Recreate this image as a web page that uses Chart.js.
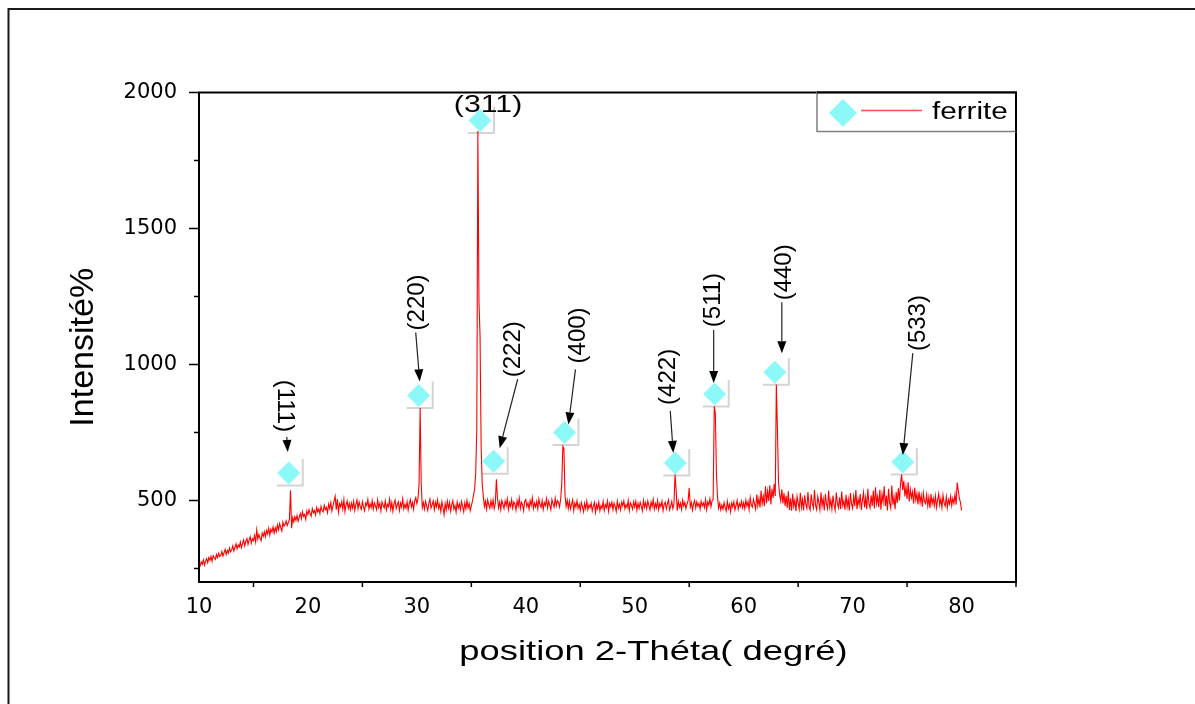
<!DOCTYPE html>
<html>
<head>
<meta charset="utf-8">
<title>DRX ferrite</title>
<script src="https://cdn.jsdelivr.net/npm/chart.js@4.4.1/dist/chart.umd.min.js"></script>
<style>
  html, body { margin: 0; padding: 0; background: #fff; }
</style>
</head>
<body>
<canvas id="xrd" width="1195" height="704"></canvas>
<script>
// diffractogram: one value every 0.1 degree, 10.0 to 80.0
// (one row = one degree)
var thetaStart = 10;
var thetaStep = 0.1;
var intensity = [
  268, 259, 274, 265, 281, 262, 277, 286, 271, 290,
  280, 294, 276, 297, 289, 283, 301, 290, 306, 293,
  298, 312, 295, 308, 320, 301, 316, 306, 325, 311,
  318, 333, 314, 327, 340, 322, 336, 329, 347, 326,
  341, 355, 333, 349, 360, 338, 354, 366, 343, 359,
  352, 371, 347, 392, 358, 375, 361, 352, 380, 368,
  385, 366, 390, 377, 398, 372, 394, 384, 403, 380,
  399, 385, 410, 392, 415, 401, 388, 420, 405, 412,
  425, 408, 419, 430, 537, 398, 436, 421, 440, 427,
  445, 424, 438, 452, 433, 458, 441, 449, 430, 461,
  448, 466, 452, 442, 470, 455, 463, 447, 474, 458,
  469, 451, 478, 463, 458, 482, 466, 474, 455, 486,
  470, 492, 461, 480, 498, 515, 466, 505, 457, 488,
  476, 495, 468, 503, 459, 484, 498, 471, 489, 466,
  490, 472, 497, 463, 485, 502, 470, 494, 478, 467,
  495, 476, 462, 490, 481, 504, 469, 487, 474, 499,
  468, 491, 480, 466, 502, 474, 489, 461, 495, 482,
  473, 498, 465, 486, 477, 505, 468, 492, 460, 488,
  501, 470, 484, 495, 463, 490, 476, 506, 469, 485,
  472, 496, 464, 489, 503, 476, 493, 467, 498, 510,
  488, 505, 560, 840, 560, 474, 492, 468, 497, 479,
  463, 490, 505, 472, 484, 498, 466, 493, 477, 502,
  470, 486, 459, 495, 474, 448, 488, 465, 497, 471,
  492, 460, 484, 499, 468, 481, 457, 494, 472, 487,
  465, 496, 478, 458, 491, 470, 500, 473, 489, 462,
  480, 497, 520, 540, 600, 760, 1858, 1232, 1105, 700,
  560, 515, 478, 497, 468, 502, 484, 471, 499, 476,
  502, 470, 489, 578, 508, 473, 494, 466, 500, 485,
  470, 498, 481, 506, 466, 492, 477, 503, 472, 494,
  486, 464, 499, 478, 508, 471, 493, 485, 462, 497,
  503, 477, 490, 468, 499, 482, 510, 470, 491, 476,
  496, 469, 505, 484, 474, 500, 467, 492, 481, 507,
  472, 497, 483, 466, 503, 488, 475, 508, 480, 499,
  493, 476, 505, 560, 698, 690, 520, 478, 501, 470,
  497, 468, 485, 502, 463, 490, 476, 499, 471, 486,
  463, 492, 477, 458, 489, 470, 497, 466, 483, 474,
  490, 461, 478, 493, 456, 485, 469, 494, 462, 480,
  471, 496, 463, 485, 474, 498, 460, 489, 477, 493,
  466, 490, 478, 459, 497, 472, 486, 465, 494, 480,
  498, 469, 484, 474, 500, 463, 491, 482, 468, 495,
  476, 497, 464, 489, 471, 493, 480, 462, 500, 475,
  492, 470, 498, 481, 465, 494, 477, 503, 468, 488,
  473, 500, 466, 489, 477, 497, 462, 485, 494, 469,
  488, 502, 465, 479, 496, 470, 487, 595, 540, 462,
  497, 475, 490, 466, 501, 480, 493, 470, 486, 499,
  546, 476, 492, 464, 487, 500, 472, 495, 479, 489,
  468, 497, 480, 491, 474, 503, 466, 494, 483, 506,
  477, 499, 505, 846, 820, 600, 512, 472, 490, 465,
  483, 468, 492, 474, 461, 497, 470, 486, 459, 491,
  476, 495, 465, 482, 500, 468, 489, 477, 497, 473,
  492, 470, 501, 479, 496, 466, 510, 483, 475, 504,
  486, 468, 522, 480, 508, 474, 536, 488, 515, 479,
  552, 490, 534, 498, 556, 485, 543, 509, 560, 516,
  926, 760, 565, 522, 498, 541, 489, 527, 480, 518,
  472, 534, 465, 508, 462, 524, 478, 501, 460, 515,
  490, 468, 528, 475, 504, 463, 519, 486, 471, 531,
  478, 465, 522, 489, 472, 538, 482, 466, 514, 493,
  466, 530, 480, 506, 463, 523, 488, 470, 536, 476,
  501, 468, 518, 484, 464, 529, 490, 473, 511, 469,
  533, 481, 498, 466, 521, 476, 504, 463, 527, 487,
  471, 515, 480, 538, 468, 506, 484, 523, 465, 500,
  529, 474, 511, 468, 543, 488, 472, 519, 480, 535,
  470, 548, 489, 515, 475, 539, 466, 523, 494, 552,
  480, 518, 463, 543, 491, 472, 555, 484, 513, 468,
  531, 491, 545, 500, 562, 595, 538, 572, 515, 550,
  505, 567, 496, 540, 510, 531, 489, 547, 501, 525,
  485, 533, 492, 518, 477, 527, 496, 488, 521, 480,
  512, 472, 523, 487, 508, 481, 517, 474, 501, 524,
  483, 506, 474, 519, 490, 479, 513, 473, 503, 487,
  515, 481, 508, 489, 523, 484, 566, 538, 507, 493,
  463
];

// indexed reflections (markers)
var hklLabels = ["(111)", "(220)", "(311)", "(222)", "(400)", "(422)", "(511)", "(440)", "(533)"];
var hklTheta = [18.24, 30.17, 35.80, 37.05, 43.55, 53.72, 57.34, 62.86, 74.61];
var hklIntensity = [601, 886, 1897, 644, 750, 638, 891, 971, 641];

var xTickValues = [10, 20, 30, 40, 50, 60, 70, 80];
var xMinorTicks = [15, 25, 35, 45, 55, 65, 75, 85];
var yTickValues = [500, 1000, 1500, 2000];
var yMinorTicks = [250, 750, 1250, 1750];

var seriesName = "ferrite";
var xTitle = "position 2-Théta( degré)";
var yTitle = "Intensité%";

var spectrum = intensity.map(function (v, i) {
  return { x: Math.round((thetaStart + i * thetaStep) * 10) / 10, y: v };
});

var markers = hklTheta.map(function (t, i) {
  return { x: t, y: hklIntensity[i] };
});

// label placement around each marker: text centre, arrow start, arrow tip (px), rotation
var labelLayout = [
  { text: [-6, -67],  from: [-2, -36],  to: [-1, -21], rot: 90 },
  { text: [1, -93],   from: [-3, -63],  to: [1, -14],  rot: -90 },
  { text: [8, -13],   from: null,       to: null,      rot: 0 },
  { text: [22, -112], from: [24, -82],  to: [6, -13],  rot: -90 },
  { text: [16, -97],  from: [11, -63],  to: [4, -8],   rot: -90 },
  { text: [-5, -86],  from: [-5, -52],  to: [-2, -10], rot: -90 },
  { text: [1, -94],   from: [-1, -64],  to: [-1, -11], rot: -90 },
  { text: [12, -100], from: [7, -70],   to: [7, -19],  rot: -90 },
  { text: [18, -139], from: [10, -109], to: [0, -7],   rot: -90 }
];

var markerColor = "rgb(140, 248, 248)";

function drawArrow(ctx, x1, y1, x2, y2) {
  var ang = Math.atan2(y2 - y1, x2 - x1);
  var len = 12, half = 4.5;
  var bx = x2 - Math.cos(ang) * len, by = y2 - Math.sin(ang) * len;
  ctx.beginPath();
  ctx.moveTo(x1, y1);
  ctx.lineTo(bx, by);
  ctx.stroke();
  ctx.beginPath();
  ctx.moveTo(x2, y2);
  ctx.lineTo(bx + Math.sin(ang) * half, by - Math.cos(ang) * half);
  ctx.lineTo(bx - Math.sin(ang) * half, by + Math.cos(ang) * half);
  ctx.closePath();
  ctx.fill();
}

var decorPlugin = {
  id: "decor",
  beforeDatasetsDraw: function (chart) {
    // light grey shadow square behind each marker
    var ctx = chart.ctx, xs = chart.scales.x, ys = chart.scales.y;
    ctx.save();
    ctx.strokeStyle = "#d4d4d4";
    ctx.lineWidth = 2;
    hklTheta.forEach(function (t, i) {
      var px = xs.getPixelForValue(t), py = ys.getPixelForValue(hklIntensity[i]);
      ctx.beginPath();
      ctx.moveTo(px + 14, py - 14);
      ctx.lineTo(px + 14, py + 12.5);
      ctx.lineTo(px - 12, py + 12.5);
      ctx.stroke();
    });
    ctx.restore();
  },
  afterDraw: function (chart) {
    var ctx = chart.ctx, area = chart.chartArea;
    var xs = chart.scales.x, ys = chart.scales.y;
    ctx.save();

    // plot frame
    ctx.strokeStyle = "#000";
    ctx.lineWidth = 2;
    ctx.strokeRect(area.left, area.top, area.right - area.left, area.bottom - area.top);

    // tick marks
    ctx.lineWidth = 1.5;
    ctx.beginPath();
    yTickValues.forEach(function (v) {
      var py = ys.getPixelForValue(v);
      ctx.moveTo(area.left, py); ctx.lineTo(area.left - 10, py);
    });
    yMinorTicks.forEach(function (v) {
      var py = ys.getPixelForValue(v);
      ctx.moveTo(area.left, py); ctx.lineTo(area.left - 5, py);
    });
    xMinorTicks.forEach(function (v) {
      var px = xs.getPixelForValue(v);
      ctx.moveTo(px, area.bottom); ctx.lineTo(px, area.bottom + 5);
    });
    ctx.stroke();

    // peak labels and arrows
    ctx.fillStyle = "#000";
    ctx.strokeStyle = "#222";
    ctx.lineWidth = 1.2;
    hklTheta.forEach(function (t, i) {
      var px = xs.getPixelForValue(t), py = ys.getPixelForValue(hklIntensity[i]);
      var lay = labelLayout[i];
      ctx.save();
      ctx.translate(px + lay.text[0], py + lay.text[1]);
      ctx.rotate(lay.rot * Math.PI / 180);
      if (lay.rot === 0) ctx.scale(1.26, 1);
      ctx.font = '24px "Liberation Sans", Arial, sans-serif';
      ctx.textAlign = "center";
      ctx.textBaseline = "middle";
      ctx.fillText(hklLabels[i], 0, -2);
      ctx.restore();
      if (lay.from) {
        drawArrow(ctx, px + lay.from[0], py + lay.from[1], px + lay.to[0], py + lay.to[1]);
      }
    });

    // legend box in the top right corner
    var lw = 199, lh = 39;
    var lx = area.right - lw, ly = area.top;
    ctx.fillStyle = "#fff";
    ctx.fillRect(lx, ly, lw, lh);
    ctx.strokeStyle = "#808080";
    ctx.lineWidth = 1.5;
    ctx.strokeRect(lx, ly, lw, lh);
    ctx.strokeStyle = "#000";
    ctx.lineWidth = 2;
    ctx.beginPath();
    ctx.moveTo(lx, ly); ctx.lineTo(area.right, ly); ctx.lineTo(area.right, ly + lh);
    ctx.stroke();
    ctx.fillStyle = markerColor;
    ctx.beginPath();
    var dx = lx + 26, dy = ly + 20.5, r = 14;
    ctx.moveTo(dx, dy - r); ctx.lineTo(dx + r, dy); ctx.lineTo(dx, dy + r); ctx.lineTo(dx - r, dy);
    ctx.closePath();
    ctx.fill();
    ctx.strokeStyle = "#ff5050";
    ctx.lineWidth = 1.5;
    ctx.beginPath();
    ctx.moveTo(lx + 44, ly + 18); ctx.lineTo(lx + 105, ly + 18);
    ctx.stroke();
    ctx.save();
    ctx.fillStyle = "#000";
    ctx.translate(lx + 115, ly + 26.5);
    ctx.scale(1.29, 1);
    ctx.font = '23px "Liberation Sans", Arial, sans-serif';
    ctx.textAlign = "left";
    ctx.textBaseline = "alphabetic";
    ctx.fillText(seriesName, 0, 0);
    ctx.restore();

    // axis titles
    ctx.fillStyle = "#000";
    ctx.save();
    ctx.translate(area.left - 106, (area.top + area.bottom) / 2 + 10);
    ctx.rotate(-Math.PI / 2);
    ctx.font = '34px "Liberation Sans", Arial, sans-serif';
    ctx.textAlign = "center";
    ctx.textBaseline = "alphabetic";
    ctx.fillText(yTitle, 0, 0);
    ctx.restore();

    ctx.save();
    ctx.translate((area.left + area.right) / 2 + 46, area.bottom + 70);
    ctx.scale(1.3, 1);
    ctx.font = '28px "Liberation Sans", Arial, sans-serif';
    ctx.textAlign = "center";
    ctx.textBaseline = "middle";
    ctx.fillText(xTitle, 0, 0);
    ctx.restore();

    // outer page frame
    ctx.strokeStyle = "#1a1a1a";
    ctx.lineWidth = 2;
    ctx.beginPath();
    ctx.moveTo(8.5, chart.height);
    ctx.lineTo(8.5, 9);
    ctx.lineTo(chart.width, 9);
    ctx.stroke();

    ctx.restore();
  }
};

new Chart(document.getElementById("xrd"), {
  type: "scatter",
  data: {
    datasets: [
      {
        label: seriesName + " markers",
        data: markers,
        pointStyle: "rectRot",
        pointRadius: 11.5,
        backgroundColor: markerColor,
        borderWidth: 0,
        showLine: false,
        order: 0
      },
      {
        label: seriesName,
        data: spectrum,
        showLine: true,
        borderColor: "#ff0000",
        borderWidth: 1.1,
        pointRadius: 0,
        tension: 0,
        order: 1
      }
    ]
  },
  options: {
    responsive: false,
    animation: false,
    devicePixelRatio: 1,
    layout: { padding: { left: 0, top: 92.5, right: 179, bottom: 0 } },
    plugins: {
      legend: { display: false },
      tooltip: { enabled: false }
    },
    scales: {
      x: {
        type: "linear",
        min: 10,
        max: 85,
        afterBuildTicks: function (scale) {
          scale.ticks = xTickValues.map(function (v) { return { value: v }; });
        },
        afterFit: function (scale) { scale.height = 122; },
        grid: { display: false, drawTicks: false },
        border: { display: false },
        ticks: {
          autoSkip: false,
          maxRotation: 0,
          padding: 13,
          color: "#000",
          font: { family: "DejaVu Sans", size: 21 },
          callback: function (v) { return String(v); }
        }
      },
      y: {
        type: "linear",
        min: 200,
        max: 2000,
        afterBuildTicks: function (scale) {
          scale.ticks = yTickValues.map(function (v) { return { value: v }; });
        },
        afterFit: function (scale) { scale.width = 199; },
        grid: { display: false, drawTicks: false },
        border: { display: false },
        ticks: {
          padding: 22,
          color: "#000",
          font: { family: "DejaVu Sans", size: 21 },
          callback: function (v) { return String(v); }
        }
      }
    }
  },
  plugins: [decorPlugin]
});
</script>
</body>
</html>
